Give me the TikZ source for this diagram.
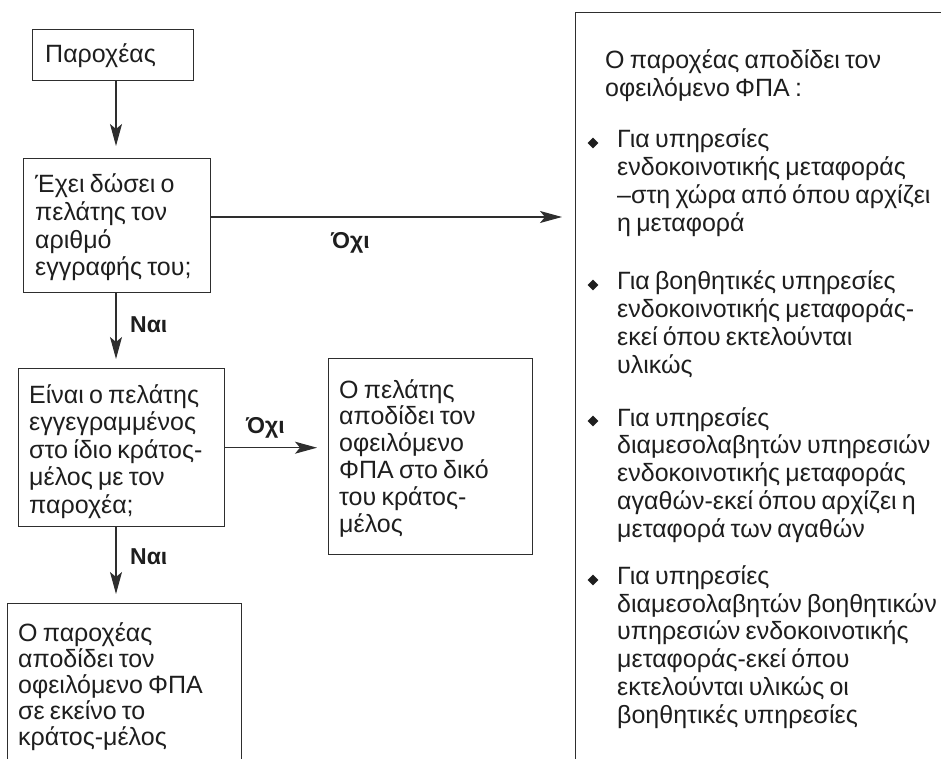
\documentclass[tikz,border=0pt]{standalone}
\usepackage{fontspec}
\setmainfont[WordSpace=0.75]{Liberation Sans}
\usetikzlibrary{arrows.meta,calc,shapes.geometric}
\definecolor{ink}{HTML}{1E1E1E}
\definecolor{rule}{HTML}{2E2E2E}

\begin{document}
\begin{tikzpicture}[x=1pt,y=-1pt,
  box/.style={draw=rule, line width=1.4pt, rectangle, anchor=north west, inner sep=0pt},
  % multi-line nodes are placed by the baseline of their last line
  txt/.style={text=ink, font=\fontsize{25}{27.7}\selectfont, anchor=base west, align=left, inner sep=0pt},
  lbl/.style={text=ink, font=\fontsize{23}{26}\selectfont\bfseries, anchor=base west, inner sep=0pt},
  arr/.style={draw=rule, line width=1.2pt, -{Stealth[length=22pt,width=12pt,inset=5pt]}},
  bulletmark/.style={diamond, fill=ink, inner sep=0pt, minimum width=11pt, minimum height=11pt}
]
\useasboundingbox (0,0) rectangle (941,759);
\clip (0,0) rectangle (941,759);

% frames
\node[box, minimum width=161pt, minimum height=51pt]  (B1) at (32,29)  {};
\node[box, minimum width=187pt, minimum height=134pt] (B2) at (23,158) {};
\node[box, minimum width=206pt, minimum height=158pt] (B3) at (18,368) {};
\node[box, minimum width=204pt, minimum height=196pt] (B4) at (328,358) {};
\node[box, minimum width=234pt, minimum height=300pt] (B5) at (7,603)  {};
\node[box, minimum width=500pt, minimum height=900pt] (R)  at (575,12) {};

% texts of the boxes
\node[txt] (t1) at (45,63)  {Παροχέας};
\node[txt, font=\fontsize{25}{27.5}\selectfont] (t2) at (35,275.5) {Έχει δώσει ο\\πελάτης τον\\αριθμό\\εγγραφής του;};
\node[txt, font=\fontsize{25}{27.5}\selectfont] (t3) at (29,513) {Είναι ο πελάτης\\εγγεγραμμένος\\στο ίδιο κράτος-\\μέλος με τον\\παροχέα;};
\node[txt, font=\fontsize{25}{26.8}\selectfont] (t4) at (339,532) {Ο πελάτης\\αποδίδει τον\\οφειλόμενο\\ΦΠΑ στο δικό\\του κράτος-\\μέλος};
\node[txt, font=\fontsize{25}{26}\selectfont] (t5) at (18,745) {Ο παροχέας\\αποδίδει τον\\οφειλόμενο ΦΠΑ\\σε εκείνο το\\κράτος-μέλος};

% right-hand list
\node[txt, font=\fontsize{25}{28.5}\selectfont] (th) at (605,97) {Ο παροχέας αποδίδει τον\\οφειλόμενο ΦΠΑ :};
\node[txt] (l1) at (617,231) {Για υπηρεσίες\\ενδοκοινοτικής μεταφοράς\\–στη χώρα από όπου αρχίζει\\η μεταφορά};
\node[txt] (l2) at (617,373) {Για βοηθητικές υπηρεσίες\\ενδοκοινοτικής μεταφοράς-\\εκεί όπου εκτελούνται\\υλικώς};
\node[txt] (l3) at (617,537) {Για υπηρεσίες\\διαμεσολαβητών υπηρεσιών\\ενδοκοινοτικής μεταφοράς\\αγαθών-εκεί όπου αρχίζει η\\μεταφορά των αγαθών};
\node[txt] (l4) at (617,723) {Για υπηρεσίες\\διαμεσολαβητών βοηθητικών\\υπηρεσιών ενδοκοινοτικής\\μεταφοράς-εκεί όπου\\εκτελούνται υλικώς οι\\βοηθητικές υπηρεσίες};
\foreach \n/\yy in {d1/143, d2/285, d3/421, d4/580}
  \node[bulletmark] (\n) at (593,\yy) {};

% connectors
\coordinate (ax) at (116,0);
\coordinate (ay) at (0,217);
\draw[arr] (B1.south -| ax) -- ($(B2.north -| ax)+(0,-12)$);
\draw[arr] (B2.east |- ay) -- ($(R.west |- ay)+(-13,0)$);
\draw[arr] (B2.south -| ax) -- ($(B3.north -| ax)+(0,-9)$);
\draw[arr] (B3.east) -- ($(B4.west |- B3.east)+(-11,0)$);
\draw[arr] (B3.south -| ax) -- ($(B5.north -| ax)+(0,-9)$);

% branch labels
\node[lbl] (o1) at (331,248) {Όχι};
\node[lbl] (n1) at (130,332) {Ναι};
\node[lbl] (o2) at (246,433) {Όχι};
\node[lbl] (n2) at (130,564) {Ναι};
\end{tikzpicture}
\end{document}
